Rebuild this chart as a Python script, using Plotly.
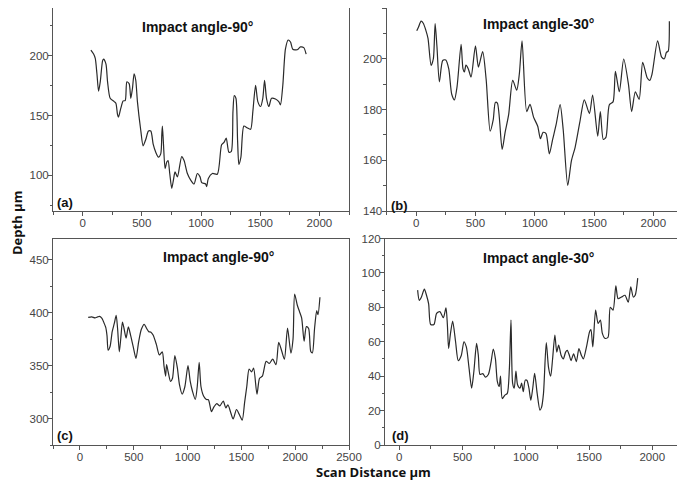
import plotly.graph_objects as go

# ---------------- data ----------------
xa = [70, 93, 107, 121, 135, 149, 169, 177, 197, 211, 233, 267, 281, 295, 303, 323, 343, 360, 374,
      393, 407, 421, 435, 449, 463, 492, 511, 534, 556, 576, 596, 618, 640, 660, 669, 674, 683, 697,
      711, 722, 736, 753, 767, 781, 801, 837, 857, 885, 913, 941, 969, 992, 1006, 1039, 1048, 1062,
      1096, 1138, 1174, 1194, 1213, 1236, 1256, 1270, 1281, 1295, 1309, 1320, 1337, 1362, 1390, 1419,
      1438, 1461, 1480, 1503, 1522, 1537, 1553, 1573, 1596, 1629, 1657, 1671, 1691, 1713, 1736, 1756,
      1775, 1812, 1840, 1868, 1888]
ya = [204.7, 201.4, 197.8, 184.9, 170.4, 178.1, 195.9, 197.3, 193.2, 178.1, 164.4, 161.6, 160.3,
      150.7, 148.5, 156.2, 162.2, 162.5, 178.1, 176.7, 164.4, 172.6, 184.9, 179.5, 161.6, 137.0,
      124.6, 130.1, 137.0, 137.0, 126.0, 119.2, 115.1, 117.8, 134.2, 141.1, 126.0, 105.5, 111.0,
      112.3, 101.4, 89.0, 95.9, 102.7, 98.6, 115.6, 112.3, 101.4, 95.9, 92.6, 101.4, 98.6, 93.7,
      92.6, 90.4, 97.3, 101.4, 100.8, 125.5, 127.4, 131.0, 119.2, 120.0, 153.4, 166.6, 164.4, 128.8,
      109.0, 115.1, 141.1, 139.7, 138.4, 153.4, 175.3, 161.6, 157.5, 164.4, 179.5, 164.4, 157.5,
      164.4, 163.8, 161.6, 158.9, 175.3, 205.5, 213.2, 211.5, 205.5, 205.0, 207.4, 206.8, 201.4]

xb = [5, 20, 42, 60, 80, 100, 126, 145, 160, 175, 196, 224, 250, 275, 300, 323, 345, 379, 395, 407,
      420, 440, 463, 500, 525, 561, 590, 624, 650, 668, 685, 725, 750, 780, 814, 848, 870, 893, 932,
      960, 990, 1025, 1048, 1070, 1095, 1123, 1150, 1180, 1214, 1240, 1278, 1309, 1340, 1380, 1418,
      1461, 1488, 1531, 1553, 1578, 1600, 1629, 1660, 1680, 1713, 1750, 1790, 1817, 1848, 1880, 1910,
      1949, 1970, 1989, 2036, 2070, 2093, 2110, 2125, 2135]
yb = [211, 212.5, 214.8, 214, 211.5, 208, 197.4, 200, 213.9, 205, 190.9, 199.3, 199.5, 196, 186,
      183.8, 189, 205.7, 196, 194.8, 197.5, 196, 192.8, 205.1, 196.7, 202.8, 192, 171.5, 176, 182.8,
      182.5, 164.3, 171, 178, 191.5, 187.6, 194, 207.1, 179.2, 182, 177, 173.4, 168.5, 171, 170.5,
      162.5, 168, 174, 181.9, 172, 150.1, 159.8, 165, 175, 183.8, 178.4, 185.7, 169.5, 179.2, 168.2,
      169, 181.9, 183, 195, 187, 199.9, 190, 179.2, 187, 184, 198.6, 192.4, 191.5, 194, 207.1, 200.6,
      200, 202.5, 203, 214.8]

xc = [77, 110, 140, 165, 184, 205, 225, 240, 252, 262, 280, 300, 320, 337, 350, 366, 380, 395, 410,
      429, 450, 470, 495, 521, 545, 570, 597, 620, 640, 660, 680, 710, 738, 765, 781, 796, 805, 820,
      842, 860, 882, 905, 925, 950, 975, 1004, 1025, 1045, 1072, 1090, 1108, 1125, 1150, 1175, 1194,
      1222, 1245, 1271, 1300, 1332, 1355, 1375, 1400, 1424, 1455, 1480, 1508, 1530, 1550, 1572, 1595,
      1614, 1645, 1669, 1695, 1730, 1760, 1791, 1822, 1847, 1877, 1900, 1929, 1960, 1980, 1995, 2020,
      2040, 2060, 2083, 2104, 2125, 2145, 2160, 2180, 2200, 2212, 2230]
yc = [395.5, 396, 395, 396, 396.5, 394.5, 390, 386, 378, 364.5, 368, 382, 390, 397.5, 385, 363, 376,
      391, 385, 376, 386.5, 379, 368, 356.8, 372, 384, 389, 385, 382, 381.5, 378.8, 370, 360, 363, 350,
      340, 351, 344, 335, 338, 359.5, 348, 332, 323, 330, 350, 335, 326, 318, 330, 353, 330, 321, 318,
      317.8, 306.5, 311, 314, 312, 316.5, 310, 313, 306, 299.6, 308.5, 304, 298.5, 315, 330, 346.7,
      344, 347.6, 323, 338, 340, 354, 352, 356, 350.8, 372, 363, 356, 385.5, 361.8, 375, 417.6, 407,
      401, 395, 373, 386.8, 385, 363.3, 362, 385, 402, 398, 414.5]

xd = [145, 158, 175, 198, 215, 232, 248, 274, 295, 321, 348, 369, 380, 390, 405, 422, 445, 466, 490,
      511, 530, 551, 572, 590, 611, 625, 638, 660, 680, 704, 725, 743, 760, 775, 790, 800, 814, 835,
      854, 870, 883, 896, 909, 922, 935, 954, 967, 980, 996, 1010, 1025, 1040, 1055, 1070, 1090, 1112,
      1125, 1140, 1162, 1180, 1197, 1212, 1230, 1245, 1260, 1280, 1297, 1315, 1328, 1345, 1358, 1378,
      1400, 1420, 1440, 1455, 1480, 1505, 1515, 1530, 1552, 1572, 1590, 1605, 1625, 1650, 1668, 1690,
      1712, 1730, 1757, 1784, 1810, 1830, 1850, 1865, 1885]
yd = [90, 84, 86, 90.6, 87, 82, 70, 70, 76.5, 77.5, 74, 79.7, 70, 56, 65, 72, 60, 49, 52, 60, 57, 45,
      33, 43, 59, 52, 41, 41.5, 39.5, 41, 48, 55.7, 50, 37, 34, 40, 27, 29, 30, 44, 72.6, 36, 33, 43,
      35, 33, 36, 31, 37.7, 37.5, 33, 26, 33, 41.6, 30, 20.3, 22, 30, 59.5, 45, 40, 50, 63.9, 54, 58,
      52, 50, 54, 55, 52, 49, 53, 48.5, 56, 52, 50, 57, 66, 67, 57, 78.4, 70.7, 72.6, 65, 62, 62.5, 80,
      78.4, 92.5, 85, 86, 87, 83, 91.9, 86, 87, 97]

titles = ["Impact angle-90°", "Impact angle-30°", "Impact angle-90°", "Impact angle-30°"]
labels = ["(a)", "(b)", "(c)", "(d)"]
x_title = "Scan Distance µm"
y_title = "Depth µm"

# ---------------- figure ----------------
# the page body adds an 8 px margin, so the figure is 8 px smaller and all
# pixel positions are measured relative to that offset
OFF = 8
W, H = 685 - OFF, 483 - OFF
fig = go.Figure()

series = [(xa, ya), (xb, yb), (xc, yc), (xd, yd)]
axnames = ["", "2", "3", "4"]
for (xs, ys), an in zip(series, axnames):
    fig.add_trace(go.Scatter(x=xs, y=ys, mode="lines", xaxis="x" + an, yaxis="y" + an,
                             line=dict(color="#2a2a2a", width=1.2, shape="spline", smoothing=0.7),
                             showlegend=False, hoverinfo="skip"))

# plot areas in screen pixels: (left, right, top, bottom)
boxes = [(53, 349, 5, 211), (386.5, 683, 5, 211), (53, 349, 238.5, 445), (385, 683, 238.5, 445)]
xranges = [[-250, 2250], [-250, 2250], [-250, 2500], [-113, 2243]]
yranges = [[70, 240], [140, 220], [275, 470], [0, 120]]
ydticks = [50, 20, 50, 20]
xminor = [250, 250, 250, 250]
yminor = [25, 10, 25, 10]


def fx(px):
    return (px - OFF) / W


def fy(py):
    return 1 - (py - OFF) / H


tickfont = dict(family="Liberation Sans, Arial, sans-serif", size=11.5, color="#444")
layout = dict(width=W, height=H, margin=dict(l=0, r=0, t=0, b=0, autoexpand=False),
              paper_bgcolor="white", plot_bgcolor="white")
for i, an in enumerate(axnames):
    l, r, t, b = boxes[i]
    xd_ = [max(0, fx(l)), min(1, fx(r))]
    yd_ = [max(0, fy(b)), min(1, fy(t))]
    common = dict(showgrid=False, zeroline=False, showline=True, linecolor="#555", linewidth=1,
                  mirror=True, ticks="outside", ticklen=4, tickcolor="#555", tickwidth=1,
                  tickfont=tickfont, automargin=False)
    layout["xaxis" + an] = dict(domain=xd_, range=xranges[i], dtick=500, tick0=0,
                                anchor="y" + an, ticklabelstandoff=-3,
                                minor=dict(ticks="outside", ticklen=2.5, dtick=xminor[i],
                                           tick0=0, tickcolor="#555"),
                                **common)
    layout["yaxis" + an] = dict(domain=yd_, range=yranges[i], dtick=ydticks[i], tick0=0,
                                anchor="x" + an, ticklabelstandoff=-3,
                                minor=dict(ticks="outside", ticklen=2.5, dtick=yminor[i],
                                           tick0=0, tickcolor="#555"),
                                **common)
fig.update_layout(**layout)

title_pos = [(197, 27), (538, 24), (218, 256.7), (538, 257.7)]
label_pos = [(55, 202), (389, 205.5), (55, 435), (390, 435)]
for i, an in enumerate(axnames):
    fig.add_annotation(text="<b>" + titles[i] + "</b>", xref="paper", yref="paper",
                       x=fx(title_pos[i][0]), y=fy(title_pos[i][1]), showarrow=False,
                       xanchor="center", yanchor="middle",
                       font=dict(family="Liberation Sans, Arial, sans-serif", size=14, color="#111"))
    fig.add_annotation(text="<b>" + labels[i] + "</b>", xref="paper", yref="paper",
                       x=fx(label_pos[i][0]), y=fy(label_pos[i][1]), showarrow=False,
                       xanchor="left", yanchor="middle",
                       font=dict(family="Liberation Sans, Arial, sans-serif", size=13, color="#111"))

fig.add_annotation(text="<b>" + x_title + "</b>", xref="paper", yref="paper",
                   x=fx(373), y=fy(472), showarrow=False, xanchor="center", yanchor="middle",
                   font=dict(family="Open Sans, sans-serif", size=13, color="#111"))
fig.add_annotation(text="<b>" + y_title + "</b>", xref="paper", yref="paper",
                   x=fx(17), y=fy(223), showarrow=False, xanchor="center", yanchor="middle",
                   textangle=-90,
                   font=dict(family="Open Sans, sans-serif", size=13, color="#111"))

fig.write_html("out.html")
